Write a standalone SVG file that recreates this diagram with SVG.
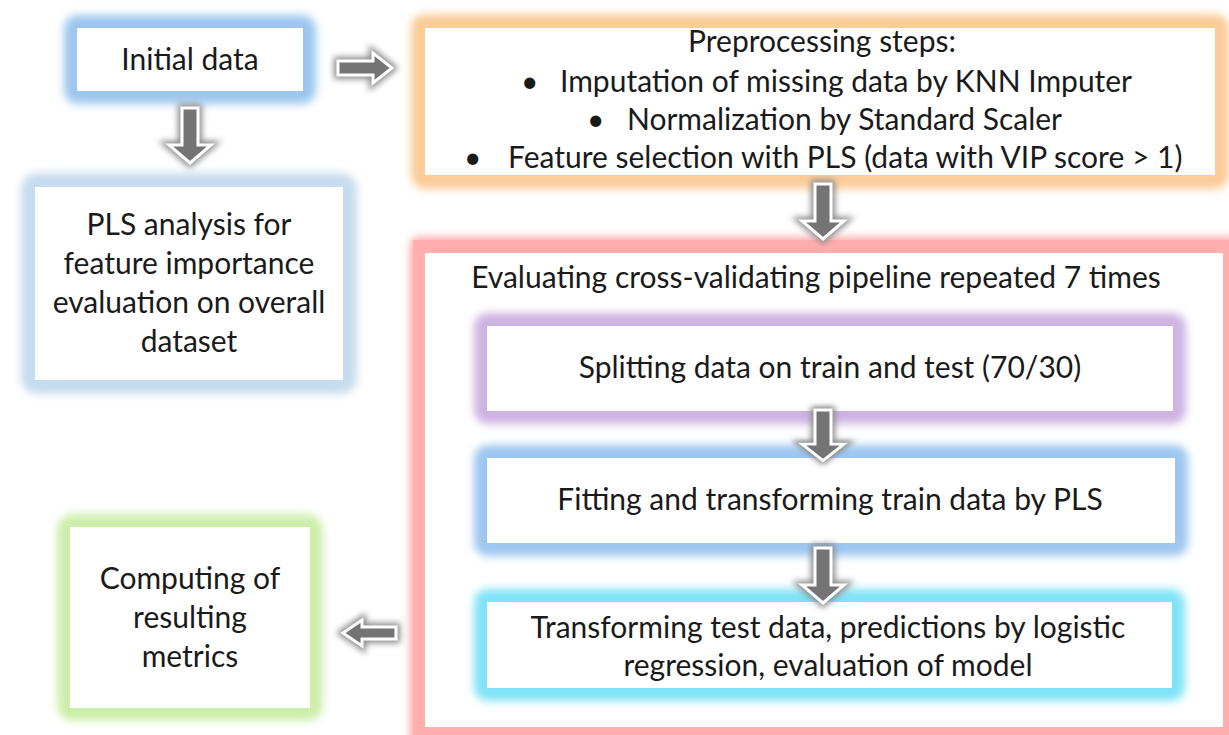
<svg xmlns="http://www.w3.org/2000/svg" width="1229" height="735" viewBox="0 0 1229 735">
  <style>
    .t { font-family: Lato, "Open Sans", "Liberation Sans", sans-serif; font-size: 30px; fill: #1a1a1a; text-anchor: middle; }
    .tl { font-family: Lato, "Open Sans", "Liberation Sans", sans-serif; font-size: 30px; fill: #1a1a1a; }
    .inner { fill: #ffffff; }
    .arrow { fill: #747474; stroke: #ffffff; stroke-width: 3; stroke-linejoin: miter; }
    .arrowShadow { fill: none; stroke: #8a8a8a; stroke-width: 8; filter: url(#soft); }
  </style>
  <defs>
    <filter id="glow" x="-30%" y="-30%" width="160%" height="160%">
      <feGaussianBlur stdDeviation="4"/>
    </filter>
    <filter id="soft" x="-50%" y="-50%" width="200%" height="200%">
      <feGaussianBlur stdDeviation="3"/>
    </filter>
    <!-- block arrow pointing down, 55 long, origin at top centre -->
    <path id="downArrow" d="M-8,0 H8 V37 H21 L0,55 L-21,37 H-8 Z"/>
  </defs>

  <rect width="1229" height="735" fill="#ffffff"/>

  <!-- Initial data -->
  <g id="node-initial">
    <rect x="64" y="15" width="252" height="89" rx="14" fill="#9cc6ef" filter="url(#glow)"/>
    <rect class="inner" x="77" y="28" width="226" height="63"/>
    <text class="t" x="190" y="70">Initial data</text>
  </g>

  <!-- Preprocessing -->
  <g id="node-preprocessing">
    <rect x="411" y="14" width="818" height="175" rx="14" fill="#fbcb98" filter="url(#glow)"/>
    <rect class="inner" x="425" y="28" width="790" height="147"/>
    <text class="t" x="822" y="52">Preprocessing steps:</text>
    <text class="tl" x="521" y="92">•</text>
    <text class="tl" x="560" y="92">Imputation of missing data by KNN Imputer</text>
    <text class="tl" x="587" y="130">•</text>
    <text class="tl" x="627" y="130">Normalization by Standard Scaler</text>
    <text class="tl" x="464" y="168">•</text>
    <text class="tl" x="508" y="168">Feature selection with PLS (data with VIP score &gt; 1)</text>
  </g>

  <!-- PLS analysis -->
  <g id="node-pls">
    <rect x="21" y="173" width="336" height="221" rx="16" fill="#c6dbee" filter="url(#glow)"/>
    <rect class="inner" x="35" y="187" width="308" height="193"/>
    <text class="t" x="189" y="235">PLS analysis for</text>
    <text class="t" x="189" y="274">feature importance</text>
    <text class="t" x="189" y="313">evaluation on overall</text>
    <text class="t" x="189" y="352">dataset</text>
  </g>

  <!-- Cross-validation pipeline -->
  <g id="node-pipeline">
    <rect x="410" y="237" width="832" height="512" rx="8" fill="#ffa9a9" filter="url(#glow)"/>
    <rect x="413" y="240" width="826" height="506" fill="#ffadad"/>
    <rect class="inner" x="425" y="253" width="798" height="474"/>
    <text class="t" x="816" y="288">Evaluating cross-validating pipeline repeated 7 times</text>
  </g>

  <g id="node-split">
    <rect x="474" y="313" width="712" height="111" rx="14" fill="#cdb2e2" filter="url(#glow)"/>
    <rect class="inner" x="487" y="326" width="686" height="85"/>
    <text class="t" x="830" y="378">Splitting data on train and test (70/30)</text>
  </g>

  <g id="node-fit">
    <rect x="474" y="445" width="714" height="111" rx="14" fill="#9cc6f0" filter="url(#glow)"/>
    <rect class="inner" x="487" y="458" width="688" height="85"/>
    <text class="t" x="830" y="510">Fitting and transforming train data by PLS</text>
  </g>

  <g id="node-transform">
    <rect x="474" y="589" width="711" height="112" rx="14" fill="#7fe3f6" filter="url(#glow)"/>
    <rect class="inner" x="487" y="602" width="685" height="86"/>
    <text class="t" x="828" y="638">Transforming test data, predictions by logistic</text>
    <text class="t" x="828" y="676">regression, evaluation of model</text>
  </g>

  <!-- Computing metrics -->
  <g id="node-metrics">
    <rect x="57" y="514" width="266" height="207" rx="16" fill="#cdeeaa" filter="url(#glow)"/>
    <rect class="inner" x="70" y="527" width="240" height="181"/>
    <text class="t" x="190" y="589">Computing of</text>
    <text class="t" x="190" y="628">resulting</text>
    <text class="t" x="190" y="667">metrics</text>
  </g>

  <!-- connectors: grey block arrows -->
  <g id="connectors">
    <!-- Initial data -> Preprocessing -->
    <path class="arrowShadow" d="M338,61 H373 V53 L392,68 L373,83 V75 H338 Z"/>
    <path class="arrow" d="M338,61 H373 V53 L392,68 L373,83 V75 H338 Z"/>
    <!-- Initial data -> PLS analysis -->
    <use href="#downArrow" class="arrowShadow" transform="translate(190,108)"/>
    <use href="#downArrow" class="arrow" transform="translate(190,108)"/>
    <!-- Preprocessing -> pipeline -->
    <use href="#downArrow" class="arrowShadow" transform="translate(823,184)"/>
    <use href="#downArrow" class="arrow" transform="translate(823,184)"/>
    <!-- Splitting -> Fitting -->
    <use href="#downArrow" class="arrowShadow" transform="translate(823,410) scale(1,0.92)"/>
    <use href="#downArrow" class="arrow" transform="translate(823,410) scale(1,0.92)"/>
    <!-- Fitting -> Transforming -->
    <use href="#downArrow" class="arrowShadow" transform="translate(823,548)"/>
    <use href="#downArrow" class="arrow" transform="translate(823,548)"/>
    <!-- pipeline -> Computing metrics -->
    <path class="arrowShadow" d="M396,627 H362 V620 L343,633 L362,646 V639 H396 Z"/>
    <path class="arrow" d="M396,627 H362 V620 L343,633 L362,646 V639 H396 Z"/>
  </g>
</svg>
